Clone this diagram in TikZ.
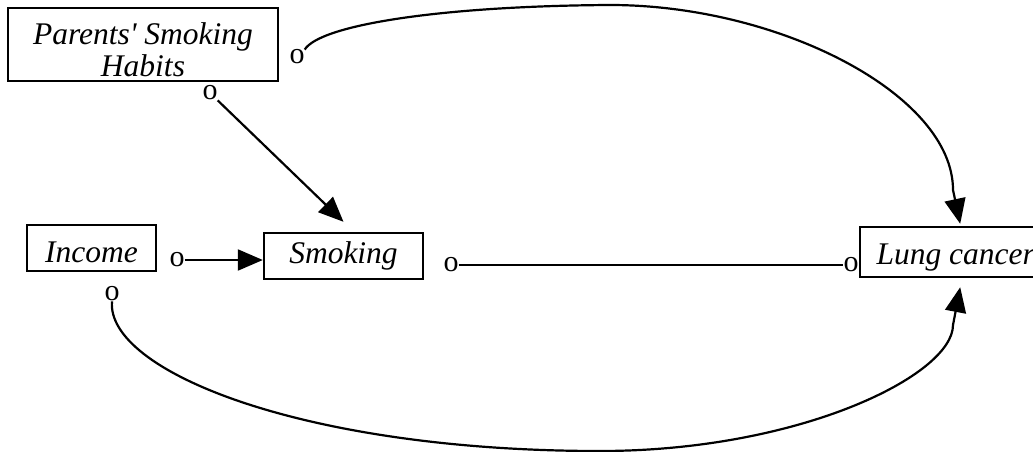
\documentclass[tikz,border=0pt]{standalone}
\usepackage{fontspec}
\setmainfont{Liberation Serif}
\usetikzlibrary{arrows.meta}
\begin{document}
\begin{tikzpicture}[x=1pt,y=-1pt,
  box/.style={draw,line width=2.4pt,inner sep=0pt,font=\fontsize{31.5}{32}\selectfont\itshape,align=center},
  omark/.style={inner sep=0pt,font=\fontsize{30}{30}\selectfont},
  link/.style={line width=2.2pt},
  arr/.style={link,-{Triangle[length=25pt,width=21pt]}}]
\useasboundingbox (0,0) rectangle (1033,452);
\clip (0,0) rectangle (1033,452);
% boxes
\node[box,minimum width=270pt,minimum height=73pt] (par) at (143,44.5) {\rule{0pt}{33pt}Parents\textquotesingle{} Smoking\\Habits};
\node[box,minimum width=129pt,minimum height=46pt,text height=28pt,text depth=0pt] (inc) at (91.5,248) {Income};
\node[box,minimum width=159pt,minimum height=46pt,text height=21pt,text depth=7pt] (smk) at (343.5,256) {Smoking};
\node[box,minimum width=191pt,minimum height=50pt,text height=24pt,text depth=0pt,anchor=west] (lung) at (859,252) {Lung cancer};
% o marks
\node[omark] (o1) at (297,57) {o};
\node[omark] (o2) at (210,93) {o};
\node[omark] (o3) at (177,260) {o};
\node[omark] (o4) at (451,265) {o};
\node[omark] (o5) at (851,265) {o};
\node[omark] (o6) at (112,294) {o};
% connectors
\draw[arr] (o2.south east) -- ([shift={(0,-10)}]smk.north);
\draw[arr] (o3.east) -- (o3.east -| smk.west);
\draw[link] (o4.east) -- (o5.west);
\draw[arr] (o1.north east) .. controls (320,25) and (440,6) .. (610,5)
  .. controls (780,5) and (953,95) .. (953,190) -- ([shift={(4.5,-2)}]lung.north);
\draw[arr] (o6.south) .. controls (106,370) and (300,451) .. (600,451)
  .. controls (800,451) and (953,375) .. (953,325) -- ([shift={(4.5,9)}]lung.south);
\end{tikzpicture}
\end{document}
